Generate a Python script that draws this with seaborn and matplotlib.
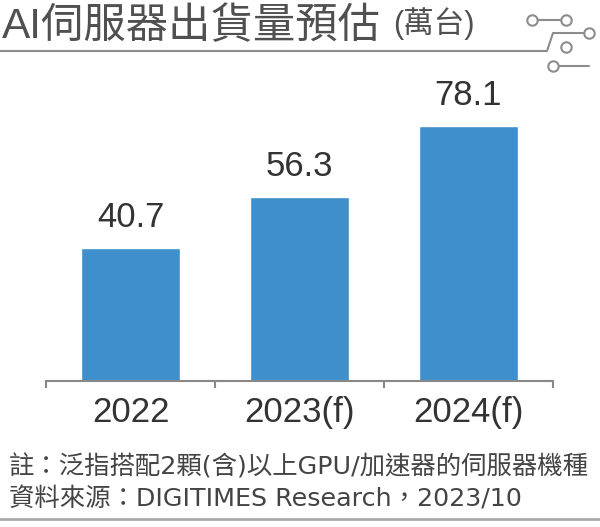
import matplotlib
matplotlib.use('Agg')
import matplotlib.pyplot as plt
import seaborn as sns
import pandas as pd
from matplotlib.lines import Line2D

# data (萬台)
years = ['2022', '2023(f)', '2024(f)']
shipments = [40.7, 56.3, 78.1]

title = 'AI伺服器出貨量預估'
unit = '(萬台)'
note = '註：泛指搭配2顆(含)以上GPU/加速器的伺服器機種'
source = '資料來源：DIGITIMES Research，2023/10'

sns.set_theme(style='white')
plt.rcParams['font.family'] = ['Liberation Sans', 'Noto Sans CJK TC', 'DejaVu Sans']

df = pd.DataFrame({'year': years, 'value': shipments})

W, H = 600, 527
fig = plt.figure(figsize=(6, 5.27), dpi=100)
ax = fig.add_axes([46 / W, 1 - 381 / H, 507 / W, 291 / H])

sns.barplot(data=df, x='year', y='value', color='#3e8fcb', width=0.58,
            saturation=1, ax=ax)
ax.set_xlim(-0.5, 2.5)
ax.set_ylim(0, 89)

for i, v in enumerate(shipments):
    ax.annotate(f'{v}', (i, v), xytext=(0, 15), textcoords='offset points',
                ha='center', va='baseline', fontsize=25, color='#333333')

# boundary ticks as major, category names as minor
ax.set_xticks([-0.5, 0.5, 1.5, 2.5], labels=['', '', '', ''])
ax.set_xticks([0, 1, 2], labels=years, minor=True)
ax.tick_params(axis='x', which='major', length=5, width=1.5, color='#888888',
               direction='out', bottom=True)
ax.tick_params(axis='x', which='minor', length=0, pad=11, labelsize=25,
               labelcolor='#333333', bottom=True)
ax.set_yticks([])
ax.set_xlabel('')
ax.set_ylabel('')
for s in ['top', 'right', 'left']:
    ax.spines[s].set_visible(False)
ax.spines['bottom'].set_color('#888888')
ax.spines['bottom'].set_linewidth(1.5)

# header
fig.text(2 / W, 1 - 38 / H, title, fontsize=30.5, color='#505050',
         va='baseline', fontweight='medium')
fig.text(393 / W, 1 - 33 / H, unit, fontsize=22, color='#505050', va='baseline')

def px(xs, ys):
    return [x / W for x in xs], [1 - y / H for y in ys]

deco = '#8c8c8c'
for xs, ys in [([0, 547, 553, 589], [51, 51, 33, 33]),
               ([532, 566], [20, 20]),
               ([553, 589], [66, 66])]:
    fx, fy = px(xs, ys)
    fig.add_artist(Line2D(fx, fy, color=deco, lw=1.5))
for cx, cy in [(532, 20), (566, 20), (589, 33), (566, 47), (553, 66)]:
    fx, fy = px([cx], [cy])
    fig.add_artist(Line2D(fx, fy, marker='o', markersize=7.5, mfc='white',
                          mec=deco, mew=1.5, ls='none'))

# footer
foot_font = ['DejaVu Sans', 'Noto Sans CJK TC']
fig.text(9 / W, 1 - 467 / H, note, fontsize=18.3, color='#444444',
         va='center', family=foot_font)
fig.text(9 / W, 1 - 499 / H, source, fontsize=18.3, color='#444444',
         va='center', family=foot_font)
fx, fy = px([0, 600], [519, 519])
fig.add_artist(Line2D(fx, fy, color='#aaaaaa', lw=2))

fig.savefig('out.png', dpi=100)
